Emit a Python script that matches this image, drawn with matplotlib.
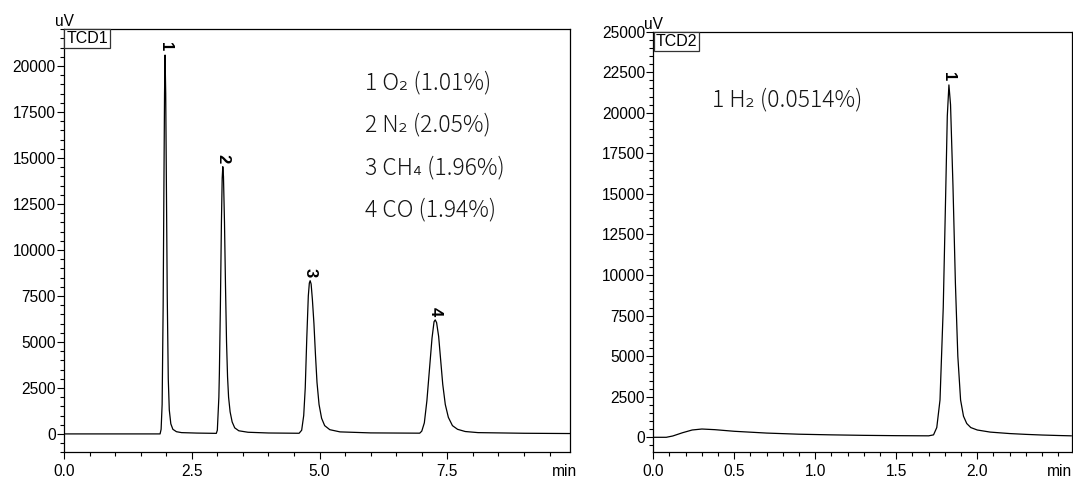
import matplotlib
matplotlib.use("Agg")
import matplotlib.pyplot as plt
from matplotlib.ticker import MultipleLocator

# ---------------- data ----------------
# TCD1 chromatogram: time (min) / signal (uV)
tcd1_time = [0.00, 1.88, 1.90, 1.92, 1.94, 1.955, 1.967, 1.977, 1.99, 2.005, 2.02, 2.04, 2.06, 2.09,
             2.13, 2.20, 2.30, 2.60, 2.98,
             3.00, 3.03, 3.04, 3.06, 3.08, 3.095, 3.107, 3.12, 3.14, 3.16, 3.18, 3.20, 3.22, 3.25,
             3.29, 3.34, 3.42, 3.60, 4.00, 4.60,
             4.65, 4.69, 4.72, 4.75, 4.78, 4.80, 4.816, 4.835, 4.86, 4.89, 4.92, 4.95, 4.99, 5.04,
             5.10, 5.20, 5.40, 6.00, 6.96,
             7.00, 7.05, 7.10, 7.15, 7.20, 7.24, 7.263, 7.29, 7.33, 7.37, 7.41, 7.46, 7.52, 7.60,
             7.70, 7.85, 8.10, 9.00, 9.90]
tcd1_signal = [0, 0, 250, 1600, 7000, 13500, 18500, 20600, 18500, 13000, 7500, 3000, 1300, 550,
               250, 120, 70, 45, 30,
               200, 2000, 3300, 7000, 11500, 13900, 14530, 14000, 11500, 8000, 5000, 3100, 2000, 1200,
               650, 330, 170, 90, 50, 35,
               200, 1000, 2500, 5200, 7500, 8200, 8330, 8150, 7300, 6000, 4300, 2800, 1600, 850,
               450, 230, 110, 55, 40,
               150, 600, 1800, 3500, 5200, 6100, 6200, 6050, 5300, 4000, 2700, 1600, 900, 450,
               250, 130, 70, 35, 20]

# TCD2 chromatogram
tcd2_time = [0.00, 0.08, 0.12, 0.18, 0.24, 0.30, 0.38, 0.50, 0.70, 0.90, 1.10, 1.30, 1.50, 1.70,
             1.73, 1.75, 1.77, 1.79, 1.805, 1.815, 1.825, 1.835, 1.85, 1.865, 1.88, 1.897, 1.915,
             1.935, 1.96, 2.00, 2.08, 2.20, 2.30, 2.40, 2.50, 2.58]
tcd2_signal = [0, 0, 80, 280, 450, 510, 470, 370, 260, 190, 150, 120, 100, 90,
               150, 600, 2300, 8000, 15000, 19800, 21720, 20500, 15500, 9500, 5000, 2300, 1300,
               850, 600, 450, 320, 230, 180, 140, 110, 90]

# peak labels
tcd1_peak_ids = ["1", "2", "3", "4"]
tcd1_peak_time = [1.977, 3.107, 4.816, 7.263]
tcd1_peak_height = [20600, 14530, 8330, 6200]
tcd2_peak_ids = ["1"]
tcd2_peak_time = [1.825]
tcd2_peak_height = [21720]

tcd1_legend = ["1 O\u2082 (1.01%)", "2 N\u2082 (2.05%)", "3 CH\u2084 (1.96%)", "4 CO (1.94%)"]
tcd2_legend = ["1 H\u2082 (0.0514%)"]

tcd1_xticks = [0.0, 2.5, 5.0, 7.5]
tcd1_yticks = [0, 2500, 5000, 7500, 10000, 12500, 15000, 17500, 20000]
tcd2_xticks = [0.0, 0.5, 1.0, 1.5, 2.0]
tcd2_yticks = [0, 2500, 5000, 7500, 10000, 12500, 15000, 17500, 20000, 22500, 25000]

# ---------------- figure ----------------
W, H = 1073, 479
fig = plt.figure(figsize=(W / 100, H / 100), dpi=100)

tick_font = "Liberation Sans"
note_font = ["Noto Sans CJK JP", "DejaVu Sans"]


def px_axes(x0, y0, x1, y1):
    return fig.add_axes([x0 / W, 1 - y1 / H, (x1 - x0) / W, (y1 - y0) / H])


ax1 = px_axes(64, 29.3, 570, 452.3)
ax2 = px_axes(653.3, 31.7, 1071.7, 452.3)


def style(ax, xticks, yticks, xminor, xlim, ylim, name):
    ax.set_xlim(*xlim)
    ax.set_ylim(*ylim)
    ax.set_xticks(xticks)
    ax.set_xticklabels([f"{v:.1f}" for v in xticks])
    ax.set_yticks(yticks)
    ax.set_yticklabels([f"{v:d}" for v in yticks])
    ax.xaxis.set_minor_locator(MultipleLocator(xminor))
    ax.yaxis.set_minor_locator(MultipleLocator(500))
    ax.tick_params(axis="both", which="major", direction="out", length=5, width=0.8,
                   labelsize=11.2, color="black")
    ax.tick_params(axis="both", which="minor", direction="out", length=3, width=0.8, color="black")
    ax.tick_params(axis="x", which="major", pad=3.5)
    ax.tick_params(axis="y", which="major", pad=1)
    for lab in ax.get_xticklabels() + ax.get_yticklabels():
        lab.set_fontfamily(tick_font)
    for sp in ax.spines.values():
        sp.set_linewidth(0.9)
        sp.set_color("black")
    ax.text(0, 1, "uV", transform=ax.transAxes, ha="center", va="bottom",
            fontsize=11.2, family=tick_font)
    ax.annotate(name, xy=(0, 1), xycoords="axes fraction", xytext=(1.7, -1.4),
                textcoords="offset points", ha="left", va="top", fontsize=11.5, family=tick_font,
                bbox=dict(boxstyle="square,pad=0.12", fc="white", ec="#333333", lw=0.9))


style(ax1, tcd1_xticks, tcd1_yticks, 0.5, (0, 9.9), (-1000, 22000), "TCD1")
style(ax2, tcd2_xticks, tcd2_yticks, 0.1, (0, 2.583), (-925, 25000), "TCD2")

ax1.plot(tcd1_time, tcd1_signal, color="black", lw=0.9)
ax2.plot(tcd2_time, tcd2_signal, color="black", lw=0.9)

for ax, ids, ts, hs in [(ax1, tcd1_peak_ids, tcd1_peak_time, tcd1_peak_height),
                        (ax2, tcd2_peak_ids, tcd2_peak_time, tcd2_peak_height)]:
    for i, t, h in zip(ids, ts, hs):
        ax.annotate(i, xy=(t, h), xytext=(0, 2.5), textcoords="offset points",
                    ha="center", va="bottom", rotation=-90, fontsize=12,
                    fontweight="bold", family=tick_font)

# "min" axis unit labels
fig.text(577 / W, 1 - 471.5 / H, "min", ha="right", va="center", fontsize=11.2, family=tick_font)
fig.text(1071.7 / W, 1 - 471.5 / H, "min", ha="right", va="center", fontsize=11.2, family=tick_font)

# component annotations
for k, s in enumerate(tcd1_legend):
    ax1.text(0.595, [0.873, 0.774, 0.672, 0.573][k], s, transform=ax1.transAxes,
             ha="left", va="center", fontsize=16.5, family=note_font, fontweight="light",
             color="#151515")
ax2.text(0.1396, 0.8376, tcd2_legend[0], transform=ax2.transAxes, ha="left", va="center",
         fontsize=16.5, family=note_font, fontweight="light", color="#151515")

fig.savefig("out.png", dpi=100)
